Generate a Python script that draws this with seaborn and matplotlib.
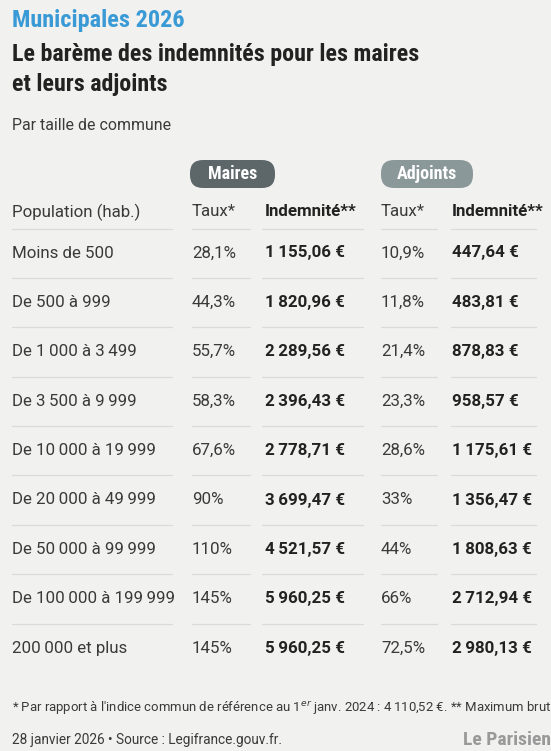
import matplotlib
matplotlib.use("Agg")
import matplotlib.pyplot as plt
from matplotlib import font_manager
from matplotlib.patches import FancyBboxPatch
import seaborn as sns

# Table data; thin spaces group the thousands
populations = ["Moins de 500", "De 500 à 999", "De 1\u2009000 à 3\u2009499", "De 3\u2009500 à 9\u2009999",
               "De 10\u2009000 à 19\u2009999", "De 20\u2009000 à 49\u2009999", "De 50\u2009000 à 99\u2009999",
               "De 100\u2009000 à 199\u2009999", "200\u2009000 et plus"]
taux_maires = ["28,1%", "44,3%", "55,7%", "58,3%", "67,6%", "90%", "110%", "145%", "145%"]
indem_maires = ["1\u2009155,06 €", "1\u2009820,96 €", "2\u2009289,56 €", "2\u2009396,43 €", "2\u2009778,71 €",
                "3\u2009699,47 €", "4\u2009521,57 €", "5\u2009960,25 €", "5\u2009960,25 €"]
taux_adjoints = ["10,9%", "11,8%", "21,4%", "23,3%", "28,6%", "33%", "44%", "66%", "72,5%"]
indem_adjoints = ["447,64 €", "483,81 €", "878,83 €", "958,57 €", "1\u2009175,61 €",
                  "1\u2009356,47 €", "1\u2009808,63 €", "2\u2009712,94 €", "2\u2009980,13 €"]
headers = ["Population (hab.)", "Taux*", "Indemnité**", "Taux*", "Indemnité**"]
groups = ["Maires", "Adjoints"]


def pick(names):
    for n in names:
        try:
            font_manager.findfont(n, fallback_to_default=False)
            return n
        except Exception:
            pass
    return "DejaVu Sans"


sns.set_theme(style="white")
narrow = pick(["Roboto Condensed", "Liberation Sans Narrow", "Roboto"])
body = pick(["Roboto", "Liberation Sans Narrow", "DejaVu Sans"])
plt.rcParams["font.family"] = [body, "DejaVu Sans"]

bg = "#f1f1ef"
dark = "#222222"
txt = "#3a3a3a"

fig = plt.figure(figsize=(5.51, 7.51), dpi=100, facecolor=bg)
ax = fig.add_axes([0, 0, 1, 1])
ax.set_xlim(0, 551)
ax.set_ylim(751, 0)
ax.axis("off")
ax.set_facecolor(bg)

# titles
ax.text(12, 21, "Municipales 2026", color="#3a9ad6", fontsize=17.5, fontweight="bold",
        family=narrow, va="center")
ax.text(12, 55, "Le barème des indemnités pour les maires", color=dark, fontsize=17.3,
        fontweight="bold", family=narrow, va="center")
ax.text(12, 84, "et leurs adjoints", color=dark, fontsize=17.3, fontweight="bold",
        family=narrow, va="center")
ax.text(12, 126, "Par taille de commune", color=txt, fontsize=11.4, va="center")

# column layout
col_x = [12, 192, 265, 381, 452]
seg = [(12, 172), (192, 250), (262, 363), (381, 437), (451, 536)]
header_y = 212
row_y0, row_step = 253, 49.4

# group pills
pill_cols = [("Maires", 190, 275, "#5d6668"), ("Adjoints", 381, 473, "#8b989a")]
for name, x0, x1, c in pill_cols:
    ax.add_patch(FancyBboxPatch((x0, 160), x1 - x0, 28, boxstyle="round,pad=0,rounding_size=13",
                                fc=c, ec="none"))
    ax.text((x0 + x1) / 2, 174, name, color="white", fontsize=13, fontweight="bold",
            family=narrow, ha="center", va="center")

# header row
for i, h in enumerate(headers):
    w = "bold" if i in (2, 4) else "normal"
    ax.text(col_x[i], header_y, h, color=dark if w == "bold" else txt, fontsize=12.2,
            fontweight=w, va="center")

cols = [populations, taux_maires, indem_maires, taux_adjoints, indem_adjoints]
for r in range(len(populations)):
    y = row_y0 + r * row_step
    for i, col in enumerate(cols):
        w = "bold" if i in (2, 4) else "normal"
        ax.text(col_x[i], y, col[r], color=dark if w == "bold" else txt, fontsize=12.2,
                fontweight=w, va="center")

# separators
for r in range(len(populations)):
    y = 229 if r == 0 else row_y0 - row_step / 2 + r * row_step
    for a, b in seg:
        ax.plot([a, b], [y, y], color="#dadad8", lw=0.9)

# footer
ax.text(12, 708, "* Par rapport à l'indice commun de référence au 1$^{er}$ janv. 2024 : 4\u2009110,52 €. ** Maximum brut",
        color=txt, fontsize=9.45, va="center")
ax.text(12, 740, "28 janvier 2026 • Source : Legifrance.gouv.fr.", color=txt, fontsize=9.8,
        va="center")
ax.text(551, 740, "Le Parisien", color="#999999", fontsize=14, fontweight="bold",
        family=narrow, ha="right", va="center")

fig.savefig("out.png", dpi=100, facecolor=bg)
